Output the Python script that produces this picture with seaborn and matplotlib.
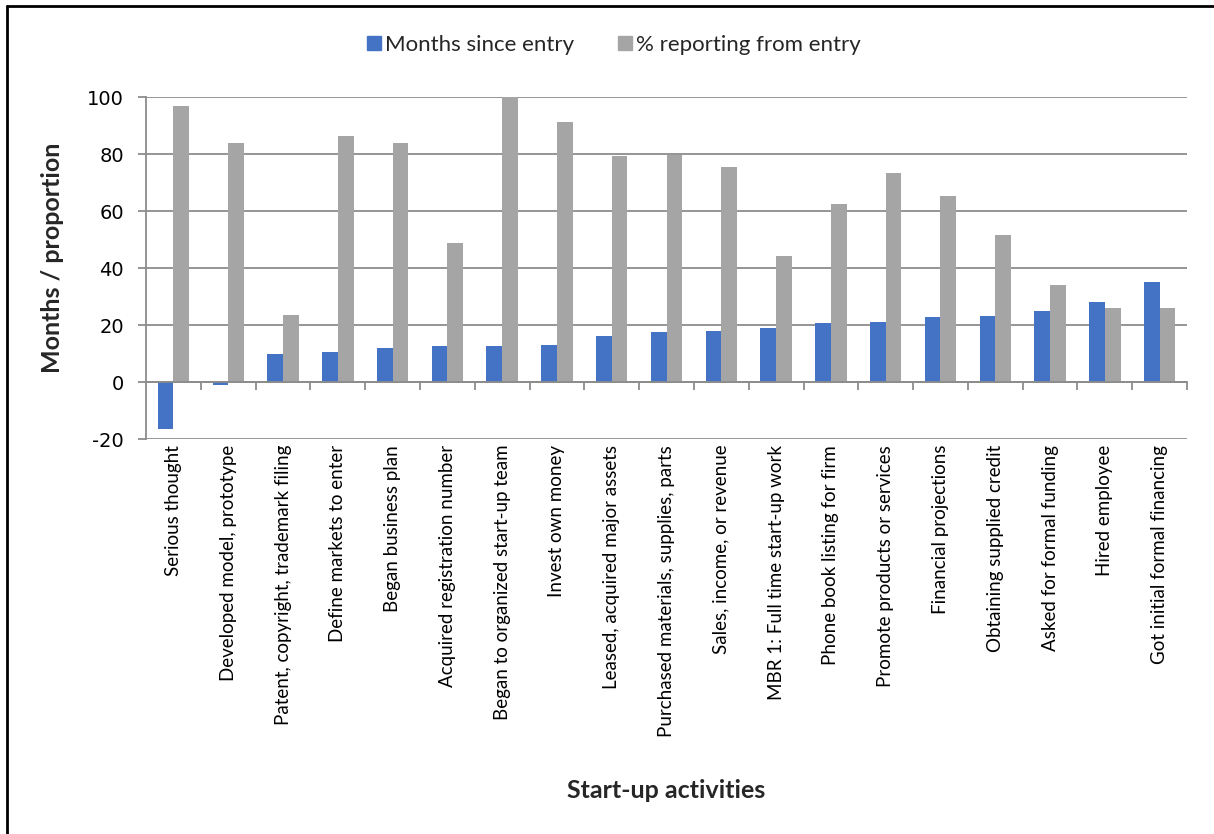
import matplotlib
matplotlib.use("Agg")
import matplotlib.pyplot as plt
from matplotlib.lines import Line2D
from matplotlib.ticker import FixedLocator
import pandas as pd
import seaborn as sns

activities = [
    "Serious thought",
    "Developed model, prototype",
    "Patent, copyright, trademark filing",
    "Define markets to enter",
    "Began business plan",
    "Acquired registration number",
    "Began to organized start-up team",
    "Invest own money",
    "Leased, acquired major assets",
    "Purchased materials, supplies, parts",
    "Sales, income, or revenue",
    "MBR 1: Full time start-up work",
    "Phone book listing for firm",
    "Promote products or services",
    "Financial projections",
    "Obtaining supplied credit",
    "Asked for formal funding",
    "Hired employee",
    "Got initial formal financing",
]
months_since_entry = [-16.3, -0.9, 9.8, 10.5, 12.0, 12.6, 12.7, 13.1, 16.2, 17.8,
                      18.0, 18.9, 20.8, 21.1, 22.9, 23.1, 25.0, 28.2, 35.2]
pct_reporting = [97.1, 84.1, 23.5, 86.3, 84.1, 48.9, 100.0, 91.5, 79.3, 79.9,
                 75.7, 44.3, 62.4, 73.5, 65.2, 51.8, 34.1, 25.9, 25.9]
series_names = ["Months since entry", "% reporting from entry"]
series_colors = ["#4472C4", "#A5A5A5"]
y_ticks = [-20, 0, 20, 40, 60, 80, 100]

df = pd.DataFrame({
    "activity": activities * 2,
    "series": [series_names[0]] * len(activities) + [series_names[1]] * len(activities),
    "value": months_since_entry + pct_reporting,
})

sns.set_theme(style="white")
plt.rcParams["font.family"] = ["Lato", "DejaVu Sans"]
plt.rcParams["axes.unicode_minus"] = False

fig = plt.figure(figsize=(12.14, 8.34), dpi=100)
ax = fig.add_axes([0.1203, 0.4733, 0.9778 - 0.1203, 0.8833 - 0.4733])

sns.barplot(data=df, x="activity", y="value", hue="series", order=activities,
            hue_order=series_names, palette=series_colors, width=0.574,
            saturation=1, errorbar=None, ax=ax, legend=False, linewidth=0)

grid_color = "#8C8C8C"
n = len(activities)
ax.set_xlim(-0.5, n - 0.5)
ax.set_ylim(-20, 100)
ax.set_yticks(y_ticks)
ax.yaxis.grid(True, color=grid_color, linewidth=1.3)
ax.set_axisbelow(True)

for side in ("top", "right"):
    ax.spines[side].set_visible(False)
ax.spines["left"].set_color(grid_color)
ax.spines["left"].set_linewidth(1.3)
ax.spines["bottom"].set_color(grid_color)
ax.spines["bottom"].set_linewidth(1.3)
ax.spines["bottom"].set_position(("data", 0))

# category boundary ticks on the zero line, labels hang below the plot
ax.xaxis.set_minor_locator(FixedLocator([k + 0.5 for k in range(n)]))
ax.tick_params(axis="x", which="minor", length=6, width=1.3, color=grid_color,
               direction="out", bottom=True)
ax.tick_params(axis="x", which="major", length=0, pad=45, labelsize=13.5,
               labelcolor="black")
ax.set_xticks(range(n))
ax.set_xticklabels(activities, rotation=90, va="top", ha="center")
ax.tick_params(axis="y", which="major", length=6, width=1.3, color=grid_color,
               direction="out", left=True, labelsize=14, labelcolor="black", pad=10)
for lbl in ax.get_yticklabels():
    lbl.set_family("DejaVu Sans")

ax.set_xlabel("")
ax.set_ylabel("")
fig.text(0.549, 1 - 790 / 834, "Start-up activities", fontsize=18,
         fontweight="bold", ha="center", va="center")
fig.text(53 / 1214, 1 - 258 / 834, "Months / proportion", fontsize=18,
         fontweight="bold", ha="center", va="center", rotation=90)

handles = [Line2D([0], [0], marker="s", linestyle="none", markersize=10,
                  markerfacecolor=c, markeredgecolor=c) for c in series_colors]
fig.legend(handles, series_names, loc="center", bbox_to_anchor=(0.505, 1 - 45 / 834),
           ncol=2, frameon=False, fontsize=16, handletextpad=0.1,
           columnspacing=1.9, handlelength=0.8)

# outer frame
fig.add_artist(Line2D([7 / 1214, 7 / 1214], [0, 1 - 6 / 834], color="black",
                      linewidth=2, transform=fig.transFigure))
fig.add_artist(Line2D([7 / 1214, 1], [1 - 6 / 834, 1 - 6 / 834], color="black",
                      linewidth=2, transform=fig.transFigure))

fig.savefig("out.png", dpi=100)
